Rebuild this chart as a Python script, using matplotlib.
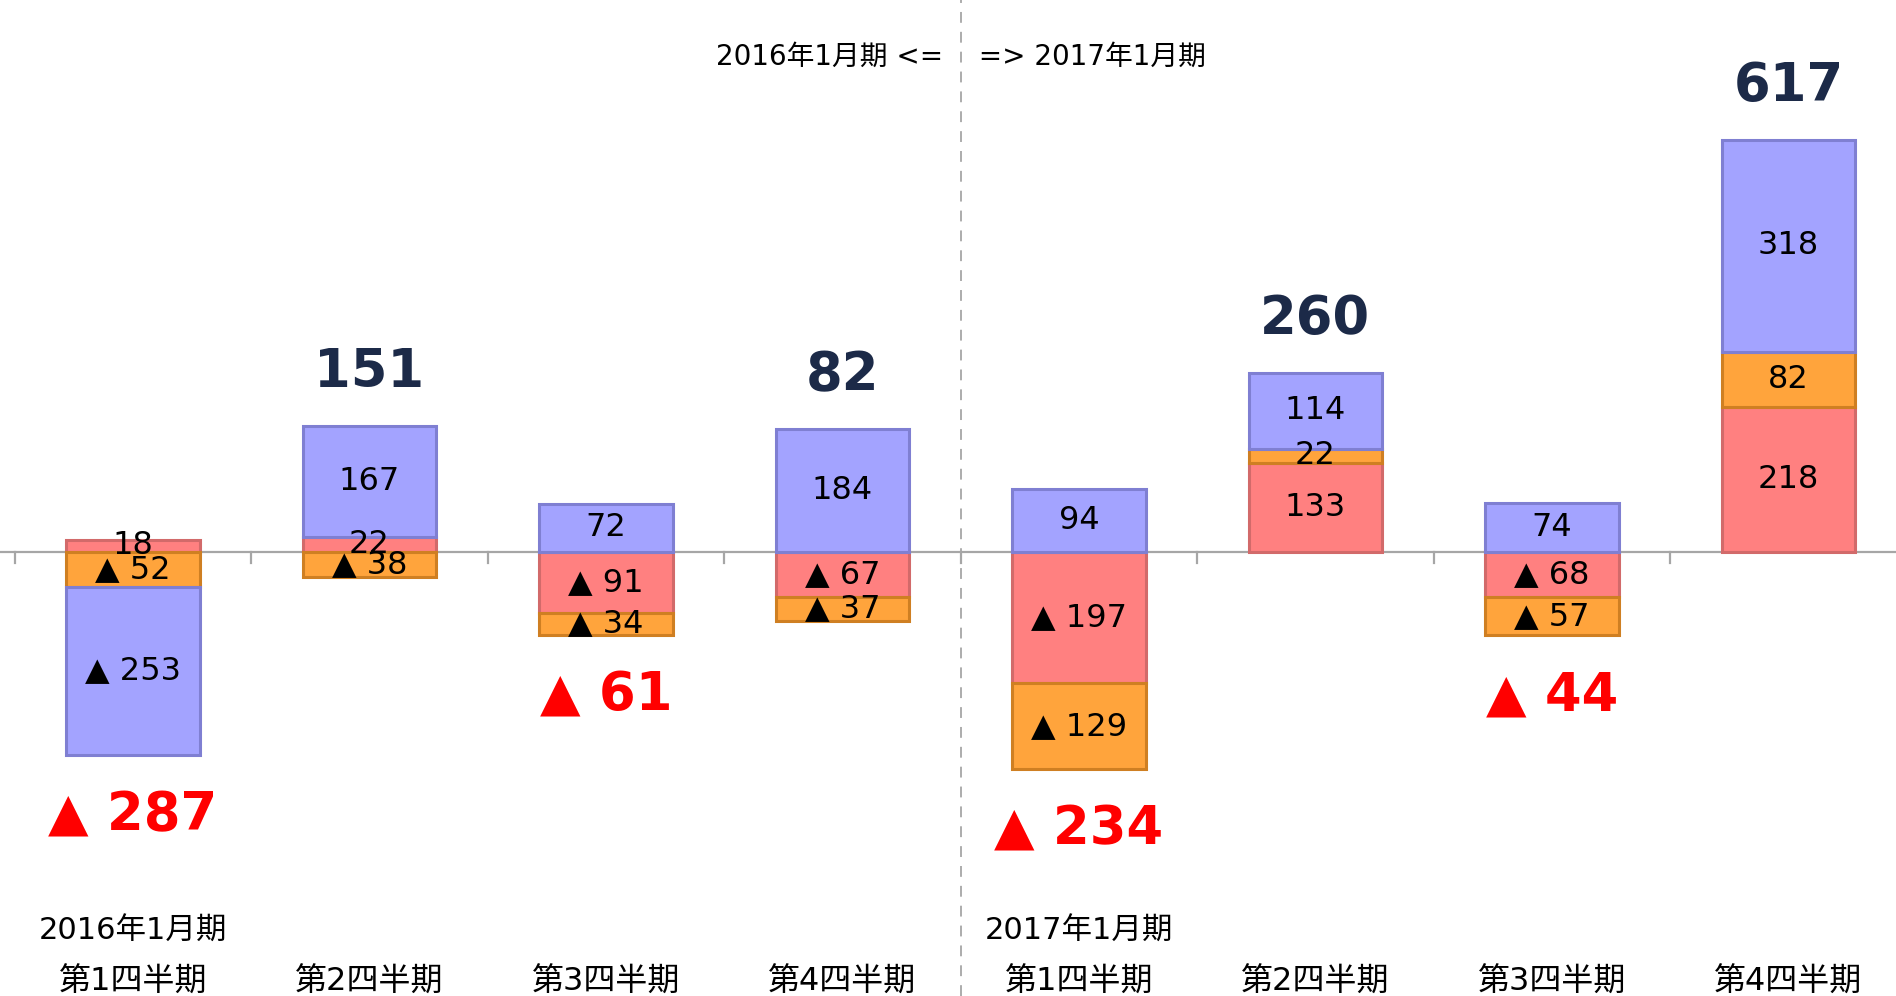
import numpy as np
from matplotlib import pyplot as plt

plt.rcParams["font.family"] = ["DejaVu Sans", "Noto Sans CJK JP"]

# data
quarters = ["第1四半期", "第2四半期", "第3四半期", "第4四半期"] * 2
fiscal_years = ["2016年1月期", "", "", "", "2017年1月期", "", "", ""]
pink = [18, 22, -91, -67, -197, 133, -68, 218]
orange = [-52, -38, -34, -37, -129, 22, -57, 82]
blue = [-253, 167, 72, 184, 94, 114, 74, 318]
totals = [-287, 151, -61, 82, -234, 260, -44, 617]

series = [
    (pink, "#ff8080", "#d26a6a"),
    (orange, "#ffa43c", "#cf7f22"),
    (blue, "#a3a3ff", "#7f7fd2"),
]


def fmt(v):
    return f"▲ {abs(v)}" if v < 0 else str(v)


fig = plt.figure(figsize=(18.96, 9.96), dpi=100)
ax = fig.add_axes([0, 0, 1, 1])
ax.set_xlim(-0.562, 7.455)
ax.set_ylim(-666, 828)
ax.axis("off")

x = np.arange(len(quarters))
pos_base = np.zeros(len(x))
neg_base = np.zeros(len(x))
for vals, face, edge in series:
    vals = np.array(vals, dtype=float)
    bottom = np.where(vals >= 0, pos_base, neg_base)
    ax.bar(x, vals, bottom=bottom, width=0.565, color=face,
           edgecolor=edge, linewidth=2.2, zorder=3)
    for xi, v, b in zip(x, vals, bottom):
        ax.text(xi, b + v / 2, fmt(int(v)), ha="center", va="center",
                fontsize=23, color="black", zorder=5)
    pos_base += np.where(vals >= 0, vals, 0)
    neg_base += np.where(vals < 0, vals, 0)

# totals above / below the stacks
for xi, t, top, bot in zip(x, totals, pos_base, neg_base):
    if t >= 0:
        ax.annotate(str(t), (xi, top), xytext=(0, 54), textcoords="offset pixels",
                    ha="center", va="center", fontsize=38, fontweight="bold",
                    color="#1c2a48")
    else:
        ax.annotate(f"▲ {abs(t)}", (xi, bot), xytext=(0, -60),
                    textcoords="offset pixels", ha="center", va="center",
                    fontsize=38, fontweight="bold", color="#ff0000")

# zero axis and ticks between categories
ax.axhline(0, color="#a6a6a6", lw=1.6, zorder=2)
for xb in np.arange(-0.5, 7.0, 1.0):
    ax.plot([xb, xb], [0, -16], color="#a6a6a6", lw=1.6, zorder=2)

# year divider
ax.axvline(3.5, color="#a6a6a6", lw=1.3, ls=(0, (6, 5)), zorder=1)
ax.text(3.5, 0.943, "2016年1月期 <=  ", transform=ax.get_xaxis_transform(),
        ha="right", va="center", fontsize=20)
ax.text(3.5, 0.943, "  => 2017年1月期", transform=ax.get_xaxis_transform(),
        ha="left", va="center", fontsize=20)

# category labels
for xi, q, fy in zip(x, quarters, fiscal_years):
    ax.text(xi, 0.014, q, transform=ax.get_xaxis_transform(),
            ha="center", va="center", fontsize=23)
    if fy:
        ax.text(xi, 0.065, fy, transform=ax.get_xaxis_transform(),
                ha="center", va="center", fontsize=22)

fig.savefig("out.png", dpi=100)
